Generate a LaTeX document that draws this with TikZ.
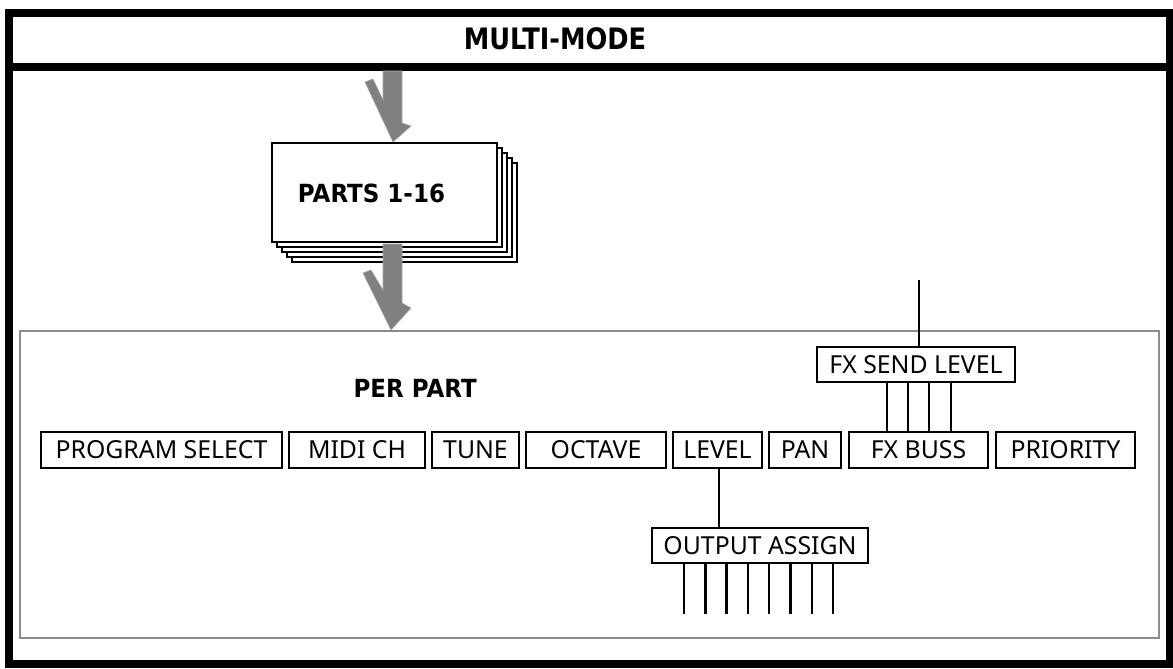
\documentclass[tikz,border=0pt]{standalone}
\usepackage{fontspec}
\setmainfont{Noto Sans}
\newfontfamily\titlefont{DejaVu Sans}[FakeStretch=0.87]
\newfontfamily\labelfont{DejaVu Sans}[FakeStretch=0.92]
\definecolor{arrowgray}{RGB}{128,128,128}
\definecolor{framegray}{RGB}{140,140,140}
\tikzset{
  boxnode/.style={draw, line width=2.5pt, inner sep=0pt, minimum height=36pt,
    text height=17.7pt, text depth=0pt, font=\fontsize{24.8}{26}\selectfont},
  wire/.style={line width=2.4pt},
  sheet/.style={draw, fill=white, line width=2.2pt},
  bigarrow/.style={fill=arrowgray, draw=arrowgray!70, line width=0.6pt},
  boldlabel/.style={font=\labelfont\bfseries\fontsize{25}{27}\selectfont, inner sep=0pt}
}
\begin{document}
\begin{tikzpicture}[x=1pt,y=-1pt]
\useasboundingbox (0,0) rectangle (1173,669);
% outer frame
\draw[line width=8pt] (9,13.5) rectangle (1169.5,664);
\draw[line width=8pt] (9,67) -- (1169.5,67);
\node[font=\titlefont\bfseries\fontsize{29.5}{31}\selectfont, anchor=base, inner sep=0pt] (title) at (555,50) {MULTI-MODE};
% inner gray frame
\draw[framegray, line width=2.6pt] (20,331) rectangle (1159,638);
% stack of sheets
\foreach \k in {4,3,2,1}{
  \draw[sheet] (272+5*\k,143+5*\k) rectangle (497+5*\k,242+5*\k);
}
\node[sheet, minimum width=225pt, minimum height=99pt, inner sep=0pt] (front) at (384.5,192.5) {};
\node[boldlabel, anchor=base] (parts) at (371.5,202) {PARTS 1-16};
% arrows
\fill[bigarrow] (383,71) -- (402,71) -- (402,123) -- (411,126) -- (393,142) -- (365,82) -- (373,79) -- (383,100) -- cycle;
\fill[bigarrow] (383,244) -- (402,244) -- (402,303) -- (411,308) -- (391,330) -- (363,273) -- (371,270) -- (383,290) -- cycle;
% per part
\node[boldlabel, anchor=base east] (perpart) at (477,397) {PER PART};
% row of boxes
\node[boxnode, minimum width=241pt] (prog) at (161.5,450) {PROGRAM SELECT};
\node[boxnode, minimum width=136pt] (midi) at (357,450) {MIDI CH};
\node[boxnode, minimum width=87pt] (tune) at (475.5,450) {TUNE};
\node[boxnode, minimum width=140pt] (oct) at (596,450) {OCTAVE};
\node[boxnode, minimum width=89pt] (level) at (717.5,450) {LEVEL};
\node[boxnode, minimum width=72pt] (pan) at (805,450) {PAN};
\node[boxnode, minimum width=139pt] (fxbuss) at (918.5,450) {FX BUSS};
\node[boxnode, minimum width=139pt] (prio) at (1065.5,450) {PRIORITY};
% fx send level
\node[boxnode, minimum width=198pt, minimum height=35pt] (fxsend) at (916,364.5) {FX SEND LEVEL};
\coordinate (fxin) at (919,280);
\draw[wire] (fxin) -- (fxin |- fxsend.north);
\foreach \x in {887,908,929,951}{
  \draw[wire] (fxsend.south -| \x,0) -- (fxbuss.north -| \x,0);
}
% output assign
\node[boxnode, minimum width=216pt, minimum height=35pt] (outassign) at (760,545.5) {OUTPUT ASSIGN};
\draw[wire] (level.south -| 719,0) -- (outassign.north -| 719,0);
\foreach \x [count=\i] in {684,705.3,726.6,747.9,769.1,790.4,811.7,833}{
  \coordinate (o\i) at (\x,614);
  \draw[wire] (outassign.south -| o\i) -- (o\i);
}
\end{tikzpicture}
\end{document}
